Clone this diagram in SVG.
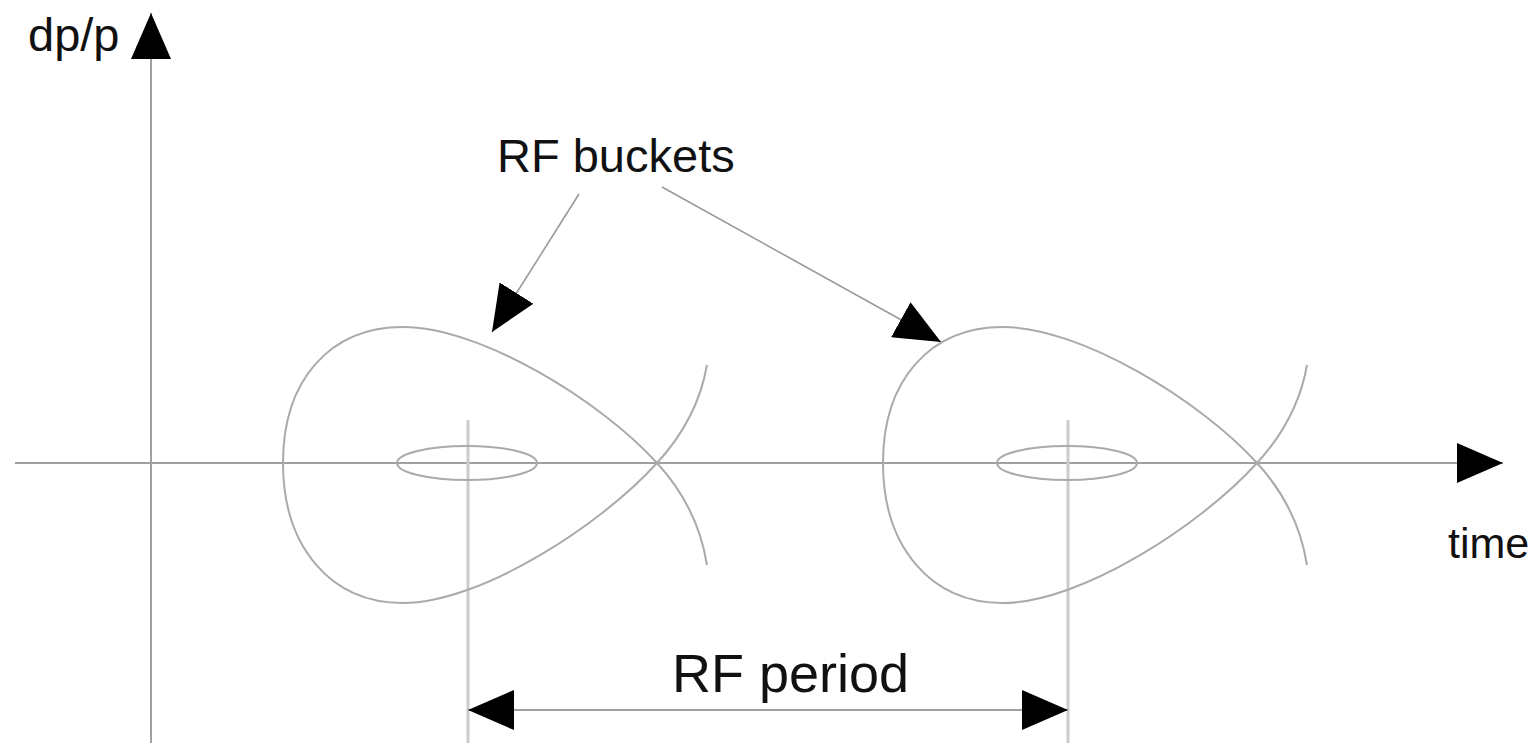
<svg xmlns="http://www.w3.org/2000/svg" width="1536" height="743" viewBox="0 0 1536 743">
<style>
text { font-family: "Liberation Sans", Arial, sans-serif; fill: #111; }
.axis { stroke: #a0a0a0; stroke-width: 2; fill: none; }
.curve { stroke: #aaaaaa; stroke-width: 2; fill: none; }
.guide { stroke: #cccccc; stroke-width: 3; fill: none; }
.ptr { stroke: #999999; stroke-width: 1.6; fill: none; }
</style>
<defs>
<marker id="ah" markerUnits="userSpaceOnUse" markerWidth="46" markerHeight="40" viewBox="0 0 46 40" refX="46" refY="20" orient="auto-start-reverse">
<path d="M0,0 L46,20 L0,40 z" fill="#000"/>
</marker>
<g id="bucketShape">
<path class="curve" d="M657 463 C600 400 480 327 403 327 C330 327 283 380 283 463 C283 546 330 603 403 603 C480 603 600 526 657 463 Z"/>
<path class="curve" d="M657 463 C680 438 700 405 707 365"/>
<path class="curve" d="M657 463 C680 488 700 521 707 565"/>
<ellipse class="curve" cx="467" cy="463" rx="70" ry="17"/>
</g>
</defs>
<g id="connectors">
<line class="axis" x1="151" y1="743" x2="151" y2="13" marker-end="url(#ah)"/>
<line class="axis" x1="15" y1="463" x2="1503" y2="463" marker-end="url(#ah)"/>
<line class="guide" x1="468" y1="420" x2="468" y2="743"/>
<line class="guide" x1="1068" y1="420" x2="1068" y2="743"/>
<line class="axis" x1="468" y1="710" x2="1068" y2="710" marker-start="url(#ah)" marker-end="url(#ah)"/>
<line class="ptr" x1="579" y1="194" x2="492" y2="332" marker-end="url(#ah)"/>
<line class="ptr" x1="662" y1="187" x2="941" y2="342" marker-end="url(#ah)"/>
</g>
<g id="bucket1">
<use href="#bucketShape"/>
</g>
<g id="bucket2">
<use href="#bucketShape" x="600"/>
</g>
<g id="labels">
<text x="28" y="51" font-size="47">dp/p</text>
<text x="497" y="172" font-size="47">RF buckets</text>
<text x="1448" y="558" font-size="43">time</text>
<text x="672" y="692" font-size="54">RF period</text>
</g>
</svg>
